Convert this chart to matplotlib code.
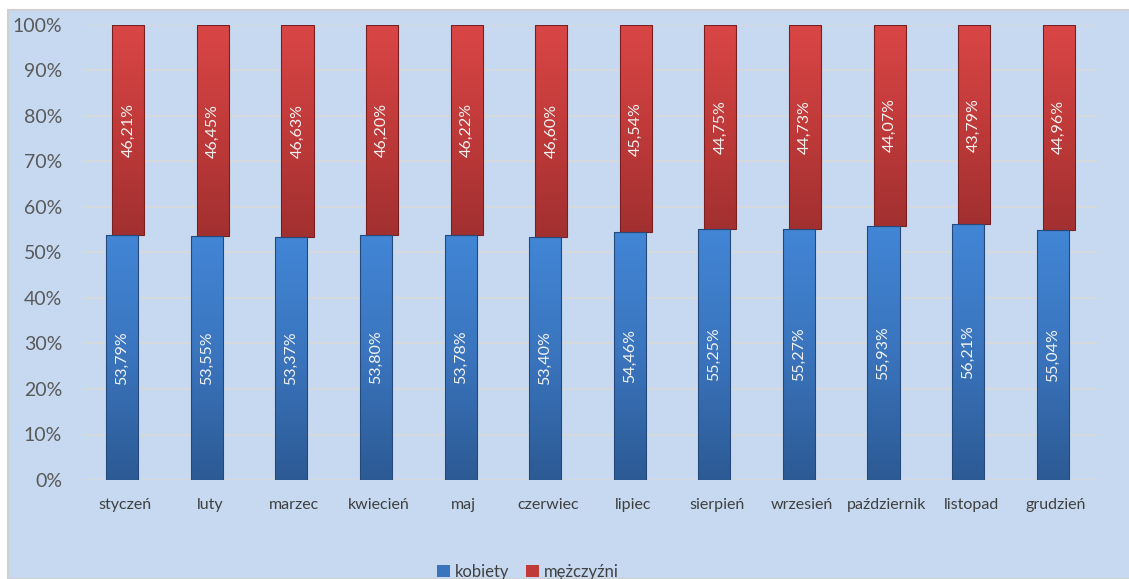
import matplotlib
matplotlib.use("Agg")
import matplotlib.pyplot as plt
import numpy as np
from matplotlib.patches import Rectangle
from matplotlib.colors import LinearSegmentedColormap

months = ["styczeń", "luty", "marzec", "kwiecień", "maj", "czerwiec", "lipiec",
          "sierpień", "wrzesień", "październik", "listopad", "grudzień"]
kobiety = [53.79, 53.55, 53.37, 53.80, 53.78, 53.40, 54.46, 55.25, 55.27, 55.93, 56.21, 55.04]
mezczyzni = [46.21, 46.45, 46.63, 46.20, 46.22, 46.60, 45.54, 44.75, 44.73, 44.07, 43.79, 44.96]
yticks = [0, 10, 20, 30, 40, 50, 60, 70, 80, 90, 100]

plt.rcParams['font.family'] = ['Lato', 'DejaVu Sans']

W, H = 1129, 579
fig = plt.figure(figsize=(W / 100, H / 100), dpi=100, facecolor='white')
bg = Rectangle((8 / W, 0), 1, (H - 10) / H, transform=fig.transFigure,
               facecolor='#C6D9F0', edgecolor='#D0D0D0', linewidth=1.5, zorder=-10)
fig.patches.append(bg)

ax = fig.add_axes([83 / W, 1 - 480 / H, (1098 - 83) / W, (480 - 25) / H])
ax.set_facecolor('none')
for s in ax.spines.values():
    s.set_visible(False)

x = np.arange(len(months))
bw = 0.38
off = 0.036

blue_cmap = LinearSegmentedColormap.from_list('b', ['#2C5A94', '#3A74BD', '#4286D6'])
red_cmap = LinearSegmentedColormap.from_list('r', ['#A23030', '#C03A3A', '#DA4646'])

def grad_bar(xc, bottom, height, cmap, edge):
    rect = Rectangle((xc - bw / 2, bottom), bw, height, facecolor='none',
                     edgecolor=edge, linewidth=0.8, zorder=3)
    ax.add_patch(rect)
    grad = np.linspace(0, 1, 256).reshape(-1, 1)
    im = ax.imshow(grad, cmap=cmap, origin='lower', aspect='auto',
                   extent=(xc - bw / 2, xc + bw / 2, bottom, bottom + height), zorder=2)
    im.set_clip_path(rect)
    return rect

bars_b = ax.bar(x - off, kobiety, bw, color='#3A74BD', zorder=1, label='kobiety')
bars_r = ax.bar(x + off, mezczyzni, bw, bottom=kobiety, color='#C03A3A', zorder=1, label='mężczyźni')
for xi, k, m in zip(x, kobiety, mezczyzni):
    grad_bar(xi + off, k, m, red_cmap, '#7A2020')
for xi, k in zip(x, kobiety):
    grad_bar(xi - off, 0, k, blue_cmap, '#24497A')

for xi, k, m in zip(x, kobiety, mezczyzni):
    ax.text(xi - off, k / 2, f"{k:.2f}%".replace('.', ','), rotation=90, ha='center',
            va='center', color='#F2F2F2', fontsize=11.5, zorder=5)
    ax.text(xi + off, k + m / 2, f"{m:.2f}%".replace('.', ','), rotation=90, ha='center',
            va='center', color='#F2F2F2', fontsize=11.5, zorder=5)

ax.set_xlim(-0.5, len(months) - 0.5)
ax.set_ylim(0, 100)
ax.set_yticks(yticks)
ax.set_yticklabels([f"{t}%" for t in yticks], fontsize=14, color='#595959')
ax.set_xticks(x)
ax.set_xticklabels(months, fontsize=11.5, color='#404040')
ax.tick_params(axis='both', length=0)
ax.tick_params(axis='y', pad=15)
ax.tick_params(axis='x', pad=13)
ax.yaxis.grid(True, color='#D9D9D9', linewidth=1.2, zorder=0)
ax.set_axisbelow(True)

leg = fig.legend(handles=[bars_b, bars_r], labels=['kobiety', 'mężczyźni'],
                 loc='center', bbox_to_anchor=(528 / W, 1 - 572 / H), ncol=2, frameon=False,
                 fontsize=12, handlelength=0.75, handleheight=0.75, handletextpad=0.3,
                 columnspacing=1.0, labelcolor='#404040')

fig.savefig('out.png', dpi=100, facecolor='white')
